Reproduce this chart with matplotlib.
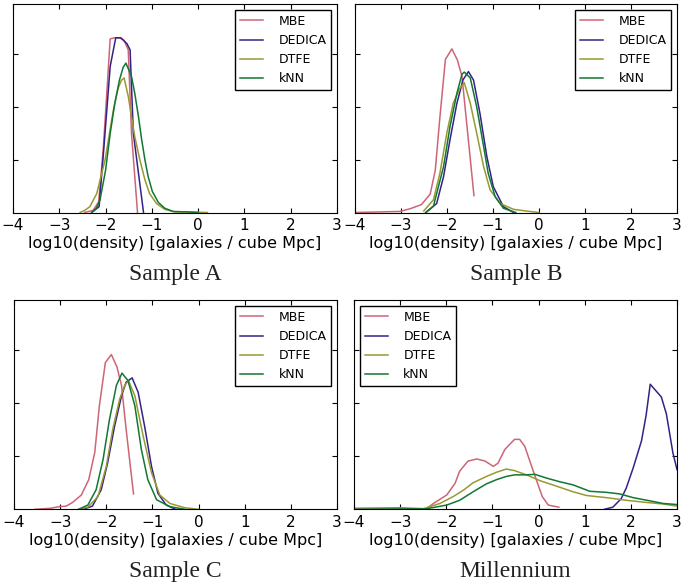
import matplotlib
matplotlib.use("Agg")
import matplotlib.pyplot as plt

# density distributions, one panel per sample
names = ["MBE", "DEDICA", "DTFE", "kNN"]
colors = ["#CC6677", "#332288", "#999933", "#117733"]

# Sample A
a_mbe_x = [-2.45, -2.27, -2.15, -2.05, -1.90, -1.80, -1.70, -1.60, -1.51, -1.44, -1.31]
a_mbe_y = [0.0, 0.004, 0.02, 0.12, 0.329, 0.331, 0.331, 0.326, 0.308, 0.15, 0.0]
a_dedica_x = [-2.3, -2.14, -2.03, -1.90, -1.78, -1.67, -1.54, -1.47, -1.40, -1.18]
a_dedica_y = [0.0, 0.011, 0.13, 0.277, 0.331, 0.331, 0.320, 0.308, 0.150, 0.0]
a_dtfe_x = [-2.55, -2.45, -2.34, -2.19, -2.01, -1.83, -1.73, -1.66, -1.60, -1.51, -1.44, -1.37,
            -1.26, -1.15, -1.05, -0.90, -0.72, -0.5, -0.2, 0.2]
a_dtfe_y = [0.0, 0.004, 0.011, 0.036, 0.10, 0.195, 0.235, 0.250, 0.255, 0.220, 0.182, 0.144,
            0.10, 0.062, 0.036, 0.017, 0.006, 0.001, 0.001, 0.0]
a_knn_x = [-2.3, -2.2, -2.12, -2.0, -1.90, -1.80, -1.70, -1.62, -1.56, -1.44, -1.37, -1.29, -1.22,
           -1.15, -1.08, -0.99, -0.86, -0.72, -0.54, -0.2, 0.0]
a_knn_y = [0.0, 0.008, 0.024, 0.08, 0.15, 0.207, 0.251, 0.275, 0.283, 0.258, 0.226, 0.182, 0.138,
           0.10, 0.068, 0.040, 0.019, 0.008, 0.002, 0.001, 0.0]

# Sample B
b_mbe_x = [-4.0, -3.5, -3.02, -2.80, -2.55, -2.36, -2.25, -2.15, -2.03, -1.89, -1.77, -1.67, -1.41]
b_mbe_y = [0.0, 0.001, 0.002, 0.007, 0.015, 0.035, 0.08, 0.18, 0.29, 0.310, 0.289, 0.258, 0.032]
b_dedica_x = [-2.46, -2.22, -2.07, -1.93, -1.78, -1.65, -1.53, -1.42, -1.28, -1.13, -0.99, -0.77, -0.55]
b_dedica_y = [0.0, 0.017, 0.068, 0.138, 0.207, 0.251, 0.267, 0.251, 0.188, 0.106, 0.049, 0.011, 0.0]
b_dtfe_x = [-2.5, -2.29, -2.15, -2.0, -1.86, -1.72, -1.62, -1.49, -1.35, -1.20, -1.06, -0.84, -0.55, -0.2, 0.0]
b_dtfe_y = [0.003, 0.024, 0.074, 0.150, 0.207, 0.235, 0.246, 0.207, 0.150, 0.087, 0.043, 0.017, 0.006, 0.002, 0.0]
b_knn_x = [-2.45, -2.29, -2.07, -1.93, -1.78, -1.67, -1.62, -1.49, -1.35, -1.20, -1.10, -0.95, -0.77, -0.5]
b_knn_y = [0.0, 0.012, 0.087, 0.163, 0.226, 0.262, 0.266, 0.255, 0.20, 0.125, 0.074, 0.030, 0.008, 0.0]

# Sample C
c_mbe_x = [-3.55, -3.2, -3.02, -2.87, -2.73, -2.54, -2.38, -2.25, -2.15, -2.02, -1.89, -1.77, -1.67, -1.57, -1.41]
c_mbe_y = [0.0, 0.002, 0.005, 0.006, 0.013, 0.027, 0.056, 0.107, 0.195, 0.277, 0.292, 0.269, 0.234, 0.151, 0.029]
c_dedica_x = [-2.5, -2.3, -2.11, -1.97, -1.82, -1.67, -1.57, -1.44, -1.31, -1.17, -1.02, -0.88, -0.70, -0.5]
c_dedica_y = [0.0, 0.006, 0.037, 0.088, 0.157, 0.214, 0.240, 0.248, 0.221, 0.157, 0.081, 0.030, 0.008, 0.0]
c_dtfe_x = [-2.6, -2.4, -2.18, -2.0, -1.86, -1.71, -1.60, -1.52, -1.38, -1.20, -1.02, -0.84, -0.62, -0.3, 0.0]
c_dtfe_y = [0.0, 0.004, 0.024, 0.081, 0.151, 0.208, 0.234, 0.243, 0.214, 0.138, 0.069, 0.027, 0.011, 0.003, 0.0]
c_knn_x = [-2.6, -2.40, -2.22, -2.07, -1.93, -1.78, -1.66, -1.53, -1.38, -1.24, -1.10, -0.91, -0.62, -0.3]
c_knn_y = [0.0, 0.008, 0.037, 0.094, 0.170, 0.234, 0.257, 0.243, 0.195, 0.113, 0.056, 0.018, 0.005, 0.0]

# Millennium
d_mbe_x = [-4.0, -3.0, -2.43, -2.28, -1.99, -1.81, -1.71, -1.53, -1.34, -1.16, -0.98, -0.88, -0.73,
           -0.52, -0.41, -0.30, -0.15, -0.05, 0.08, 0.21, 0.44]
d_mbe_y = [0.002, 0.003, 0.001, 0.011, 0.027, 0.049, 0.072, 0.091, 0.095, 0.091, 0.081, 0.087, 0.113,
           0.132, 0.132, 0.119, 0.081, 0.056, 0.024, 0.008, 0.004]
d_dedica_x = [1.43, 1.61, 1.79, 1.90, 2.05, 2.23, 2.33, 2.42, 2.66, 2.77, 2.91, 3.0]
d_dedica_y = [0.0, 0.004, 0.020, 0.040, 0.078, 0.129, 0.177, 0.236, 0.212, 0.180, 0.107, 0.075]
d_dtfe_x = [-4.0, -2.5, -2.14, -1.85, -1.63, -1.42, -1.13, -0.91, -0.70, -0.52, -0.26, 0.03, 0.31,
            0.75, 1.04, 1.47, 1.90, 2.33, 2.70, 3.0]
d_dtfe_y = [0.0, 0.001, 0.011, 0.024, 0.036, 0.050, 0.062, 0.070, 0.076, 0.073, 0.065, 0.054, 0.046,
            0.033, 0.026, 0.022, 0.017, 0.013, 0.010, 0.006]
d_knn_x = [-4.0, -2.43, -1.99, -1.71, -1.42, -1.13, -0.91, -0.70, -0.52, -0.26, -0.08, 0.17, 0.46,
           0.75, 1.11, 1.47, 1.76, 2.05, 2.41, 2.70, 3.0]
d_knn_y = [0.0, 0.001, 0.008, 0.017, 0.033, 0.048, 0.056, 0.062, 0.065, 0.065, 0.066, 0.059, 0.052,
           0.046, 0.034, 0.032, 0.029, 0.022, 0.016, 0.011, 0.009]

panels = [
    ("Sample A", [(a_mbe_x, a_mbe_y), (a_dedica_x, a_dedica_y), (a_dtfe_x, a_dtfe_y), (a_knn_x, a_knn_y)], "upper right"),
    ("Sample B", [(b_mbe_x, b_mbe_y), (b_dedica_x, b_dedica_y), (b_dtfe_x, b_dtfe_y), (b_knn_x, b_knn_y)], "upper right"),
    ("Sample C", [(c_mbe_x, c_mbe_y), (c_dedica_x, c_dedica_y), (c_dtfe_x, c_dtfe_y), (c_knn_x, c_knn_y)], "upper right"),
    ("Millennium", [(d_mbe_x, d_mbe_y), (d_dedica_x, d_dedica_y), (d_dtfe_x, d_dtfe_y), (d_knn_x, d_knn_y)], "upper left"),
]

plt.rcParams["font.family"] = "DejaVu Sans"
plt.rcParams["xtick.direction"] = "in"
plt.rcParams["ytick.direction"] = "in"
plt.rcParams["xtick.top"] = True
plt.rcParams["ytick.right"] = True
plt.rcParams["xtick.major.size"] = 3.5
plt.rcParams["ytick.major.size"] = 3.5

W, H = 682, 587
fig = plt.figure(figsize=(W / 100, H / 100), dpi=100)

# axes boxes in pixels: left, top, right, bottom
boxes = [(13, 4, 337, 212.5), (354.7, 4, 677, 212.5), (14, 300, 337, 509.3), (354, 300, 677, 509.3)]

for (title, series, loc), (l, t, r, b) in zip(panels, boxes):
    ax = fig.add_axes([l / W, 1 - b / H, (r - l) / W, (b - t) / H])
    for (xs, ys), name, col in zip(series, names, colors):
        ax.plot(xs, ys, color=col, lw=1.1, label=name)
    ax.set_xlim(-4, 3)
    ax.set_ylim(0, 0.395)
    ax.set_xticks(range(-4, 4))
    ax.set_yticks([0.1, 0.2, 0.3])
    ax.set_yticklabels([])
    ax.tick_params(labelsize=11, pad=4)
    ax.set_xlabel("log10(density) [galaxies / cube Mpc]", fontsize=11.5, labelpad=2)
    leg = ax.legend(loc=loc, fontsize=9, fancybox=False, framealpha=1, edgecolor="black",
                    handlelength=1.9, handletextpad=1.2, borderaxespad=0.45)
    leg.get_frame().set_linewidth(1.0)
    fig.text((l + r) / 2 / W, 1 - (b + 67.5) / H, title, ha="center", va="baseline",
             fontsize=17, family="Liberation Serif", color="#222222")

fig.savefig("out.png", dpi=100)
